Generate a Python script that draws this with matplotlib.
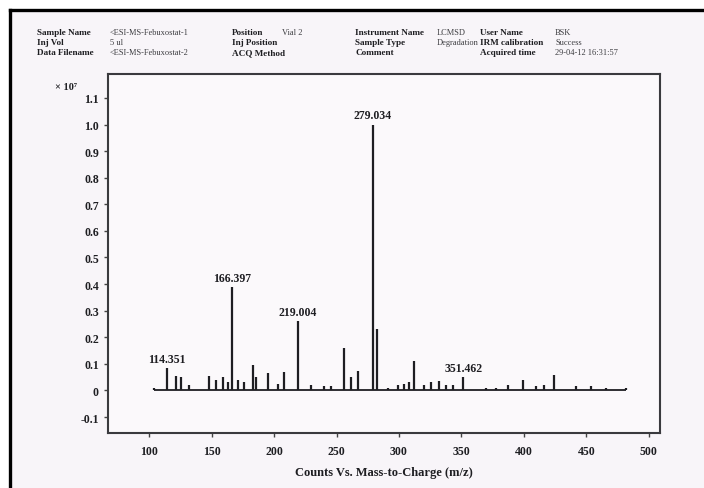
import matplotlib
matplotlib.use("Agg")
import matplotlib.pyplot as plt
from matplotlib.patches import Rectangle
from matplotlib.lines import Line2D

# ---- data ----
mz = [104.0, 114.351, 121.6, 125.6, 132.0, 148.0, 153.6, 159.2, 163.2, 166.397, 171.2, 176.0,
      183.2, 185.6, 195.2, 203.2, 208.0, 219.004, 229.6, 240.0, 245.6, 256.0, 261.6, 267.2,
      279.034, 282.0, 291.0, 299.0, 304.0, 308.0, 312.0, 320.0, 325.6, 332.0, 337.6, 343.2,
      351.462, 369.6, 377.6, 387.2, 399.2, 410.0, 416.0, 424.0, 441.6, 453.6, 465.6, 481.6]
intensity = [0.01, 0.085, 0.055, 0.05, 0.02, 0.055, 0.04, 0.05, 0.03, 0.39, 0.04, 0.03,
             0.095, 0.05, 0.065, 0.025, 0.07, 0.26, 0.02, 0.015, 0.015, 0.16, 0.05, 0.075,
             1.0, 0.23, 0.01, 0.02, 0.025, 0.03, 0.11, 0.02, 0.03, 0.035, 0.02, 0.02,
             0.05, 0.01, 0.01, 0.02, 0.04, 0.015, 0.02, 0.057, 0.015, 0.015, 0.01, 0.01]
labelled = ["114.351", "166.397", "219.004", "279.034", "351.462"]
xticks = [100, 150, 200, 250, 300, 350, 400, 450, 500]
yticks = [-0.1, 0, 0.1, 0.2, 0.3, 0.4, 0.5, 0.6, 0.7, 0.8, 0.9, 1.0, 1.1]
ytick_labels = ["-0.1", "0", "0.1", "0.2", "0.3", "0.4", "0.5", "0.6", "0.7", "0.8", "0.9", "1.0", "1.1"]

header_rows = [
    [("Sample Name", "<ESI-MS-Febuxostat-1"), ("Position", "Vial 2"), ("Instrument Name", "LCMSD"), ("User Name", "BSK")],
    [("Inj Vol", "5 ul"), ("Inj Position", ""), ("Sample Type", "Degradation"), ("IRM calibration", "Success")],
    [("Data Filename", "<ESI-MS-Febuxostat-2"), ("ACQ Method", ""), ("Comment", ""), ("Acquired time", "29-04-12 16:31:57")],
]

serif = ["Liberation Serif", "DejaVu Serif"]
ink = "#1e1e22"

W, H = 704, 489
fig = plt.figure(figsize=(W / 100, H / 100), dpi=100)
fig.patch.set_facecolor("white")

# paper background and scan frame
fig.add_artist(Rectangle((10 / W, 0), 1 - 10 / W, 1 - 11 / H, transform=fig.transFigure,
                         facecolor="#f8f5f9", edgecolor="none", zorder=-10))
fig.add_artist(Line2D([10 / W, 10 / W], [0, 1 - 11 / H], transform=fig.transFigure,
                      color="black", lw=2.4))
fig.add_artist(Line2D([10 / W, 1], [1 - 11 / H, 1 - 11 / H], transform=fig.transFigure,
                      color="black", lw=2.4))

# header
col_label_x = [37, 232, 355, 480]
col_value_x = [110, 282, 437, 555]
row_y = [33, 43, 53]
for r, row in enumerate(header_rows):
    for c, (lab, val) in enumerate(row):
        fig.text(col_label_x[c] / W, 1 - row_y[r] / H, lab, family=serif, fontsize=6.6,
                 fontweight="bold", color=ink, va="center", ha="left")
        if val:
            fig.text(col_value_x[c] / W, 1 - row_y[r] / H, val, family=serif, fontsize=6.0,
                     color="#3c3c40", va="center", ha="left")

ax = fig.add_axes([108 / W, 1 - 434 / H, (660 - 108) / W, (434 - 75) / H])
ax.set_facecolor("#fbf9fb")
ax.set_xlim(67, 509)
ax.set_ylim(-0.16, 1.19)

# baseline and peaks
ax.plot([min(mz), max(mz)], [0, 0], color=ink, lw=1.3, solid_capstyle="butt")
ax.vlines(mz, 0, intensity, colors=ink, lw=1.6)

for m, h in zip(mz, intensity):
    lab = f"{m:.3f}"
    if lab in labelled:
        ax.text(m, h + 0.012, lab, family=serif, fontsize=8.5, fontweight="bold",
                color=ink, ha="center", va="bottom")

ax.set_xticks(xticks)
ax.set_xticklabels([str(t) for t in xticks])
ax.set_yticks(yticks)
ax.set_yticklabels(ytick_labels)
for lab in ax.get_xticklabels() + ax.get_yticklabels():
    lab.set_family(serif)
    lab.set_fontweight("bold")
    lab.set_fontsize(8.5)
    lab.set_color(ink)
ax.tick_params(axis="both", direction="out", length=3, width=1, color="#444")
ax.tick_params(axis="x", pad=6)
for s in ax.spines.values():
    s.set_color("#3a3a3e")
    s.set_linewidth(1.5)

ax.set_xlabel("Counts Vs. Mass-to-Charge (m/z)", family=serif, fontsize=9, fontweight="bold",
              color=ink, labelpad=6)
fig.text(66 / W, 1 - 88 / H, "× 10⁷", family=serif, fontsize=7.5, fontweight="bold",
         color=ink, ha="center", va="center")

fig.savefig("out.png", dpi=100, facecolor=fig.get_facecolor())
